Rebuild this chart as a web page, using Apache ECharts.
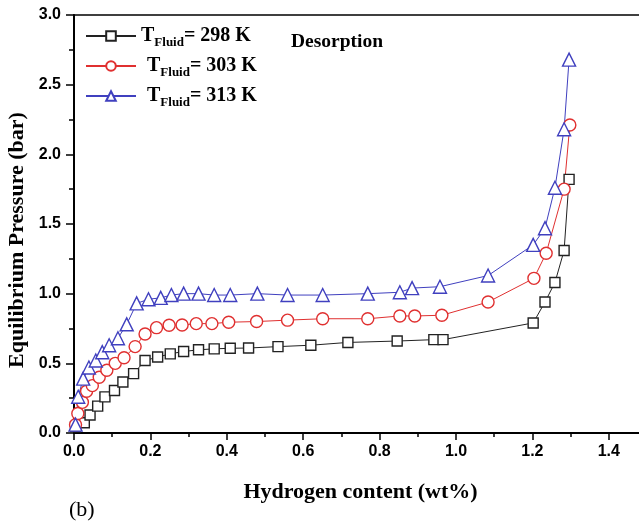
<!DOCTYPE html>
<html><head><meta charset="utf-8">
<script src="https://cdn.jsdelivr.net/npm/echarts@6/dist/echarts.min.js"></script>
<style>html,body{margin:0;padding:0;background:#fff}#c{width:639px;height:529px}</style>
</head><body><div id="c"></div>
<script>
// ---- data ----
const x298 = [0.004,0.027,0.042,0.062,0.081,0.106,0.128,0.156,0.186,0.219,0.252,0.287,0.326,0.367,0.409,0.457,0.534,0.620,0.717,0.846,0.942,0.966,1.202,1.233,1.259,1.283,1.296];
const y298 = [0.045,0.074,0.129,0.193,0.259,0.305,0.366,0.426,0.52,0.545,0.568,0.585,0.597,0.604,0.608,0.61,0.62,0.63,0.65,0.66,0.67,0.67,0.79,0.94,1.08,1.31,1.82];
const x303 = [0.004,0.010,0.022,0.033,0.048,0.066,0.086,0.108,0.131,0.160,0.186,0.216,0.249,0.283,0.320,0.361,0.405,0.478,0.559,0.651,0.769,0.853,0.892,0.963,1.084,1.204,1.236,1.283,1.298];
const y303 = [0.06,0.14,0.22,0.30,0.34,0.40,0.45,0.50,0.54,0.62,0.71,0.756,0.773,0.775,0.785,0.785,0.795,0.80,0.81,0.82,0.82,0.84,0.84,0.845,0.94,1.11,1.29,1.75,2.21];
const x313 = [0.004,0.011,0.024,0.039,0.057,0.074,0.092,0.115,0.138,0.164,0.195,0.227,0.255,0.287,0.326,0.367,0.409,0.480,0.559,0.651,0.769,0.853,0.885,0.958,1.084,1.202,1.233,1.259,1.283,1.296];
const y313 = [0.06,0.26,0.39,0.47,0.52,0.58,0.63,0.68,0.78,0.93,0.96,0.97,0.99,1.00,1.00,0.99,0.99,1.00,0.99,0.99,1.00,1.01,1.04,1.05,1.13,1.35,1.47,1.76,2.18,2.68];
const seriesNames = ['298 K','303 K','313 K'];
const xTicks = [0.0,0.2,0.4,0.6,0.8,1.0,1.2,1.4];
const yTicks = [0.0,0.5,1.0,1.5,2.0,2.5,3.0];

const pair = (xs, ys) => xs.map((v,i)=>[v, ys[i]]);
const serif = 'Liberation Serif';
const sans = 'Liberation Sans';
const colors = ['#222222','#e03030','#4040bf'];
const symbols = ['rect','circle','triangle'];
const sizes = [10,12,13];
const datas = [pair(x298,y298), pair(x303,y303), pair(x313,y313)];

const chart = echarts.init(document.getElementById('c'), null, {renderer:'canvas'});
chart.setOption({
  animation:false,
  backgroundColor:'#fff',
  grid:{left:74, top:15, right:-8, bottom:96, containLabel:false, outerBoundsMode:'none',
        show:true, borderColor:'#000', borderWidth:1.5, backgroundColor:'transparent'},
  legend:{
    orient:'vertical', left:80, top:21, itemWidth:50, itemHeight:12, itemGap:7,
    data:seriesNames,
    formatter: function(name){
      const i = seriesNames.indexOf(name);
      return (i===0?'{t|T}':'{tp|T}') + '{s|Fluid}{t|= ' + name + '}';
    },
    textStyle:{
      rich:{
        t:{fontFamily:serif, fontWeight:'bold', fontSize:20, color:'#000', lineHeight:26, verticalAlign:'middle'},
        tp:{fontFamily:serif, fontWeight:'bold', fontSize:20, color:'#000', lineHeight:26, verticalAlign:'middle', padding:[0,0,0,6]},
        s:{fontFamily:serif, fontWeight:'bold', fontSize:13, color:'#000', lineHeight:26, verticalAlign:'bottom', padding:[10,0,0,0]}
      }
    }
  },
  xAxis:{
    type:'value', min:0, max:1.5, interval:0.2,
    name:'Hydrogen content (wt%)', nameLocation:'middle', nameGap:48,
    nameTextStyle:{fontFamily:serif, fontWeight:'bold', fontSize:22, color:'#000'},
    axisLine:{show:true, onZero:false, lineStyle:{color:'#000', width:2}},
    axisTick:{show:true, length:7, lineStyle:{color:'#000', width:1.5}},
    minorTick:{show:true, splitNumber:2, length:4, lineStyle:{color:'#000', width:1.5}},
    splitLine:{show:false},
    axisLabel:{margin:11, fontFamily:sans, fontWeight:'bold', fontSize:16, color:'#000',
      formatter:(v)=> xTicks.some(t=>Math.abs(t-v)<1e-6) ? v.toFixed(1) : ''}
  },
  yAxis:{
    type:'value', min:0, max:3, interval:0.5,
    axisLine:{show:true, onZero:false, lineStyle:{color:'#000', width:2}},
    axisTick:{show:true, length:8, lineStyle:{color:'#000', width:1.5}},
    minorTick:{show:true, splitNumber:2, length:5, lineStyle:{color:'#000', width:1.5}},
    splitLine:{show:false},
    axisLabel:{margin:13, fontFamily:sans, fontWeight:'bold', fontSize:16, color:'#000',
      formatter:(v)=> yTicks.some(t=>Math.abs(t-v)<1e-6) ? v.toFixed(1) : ''}
  },
  series: seriesNames.map((n,i)=>({
    name:n, type:'line', data:datas[i], symbol:symbols[i], symbolSize:sizes[i],
    showAllSymbol:true, clip:false,
    lineStyle:{color:colors[i], width:1},
    itemStyle:{color:'#fff', borderColor:colors[i], borderWidth:1.4},
    emphasis:{disabled:true}
  })),
  graphic:[
    {type:'text', left:291, top:32, style:{text:'Desorption', font:'bold 19.5px "Liberation Serif"', fill:'#000'}},
    {type:'text', left:69, top:499, style:{text:'(b)', font:'22px "Liberation Serif"', fill:'#000'}},
    {type:'text', x:17, y:240, rotation:Math.PI/2,
     style:{text:'Equilibrium Pressure (bar)', font:'bold 22px "Liberation Serif"', fill:'#000', align:'center', verticalAlign:'middle'}}
  ]
});
</script></body></html>
